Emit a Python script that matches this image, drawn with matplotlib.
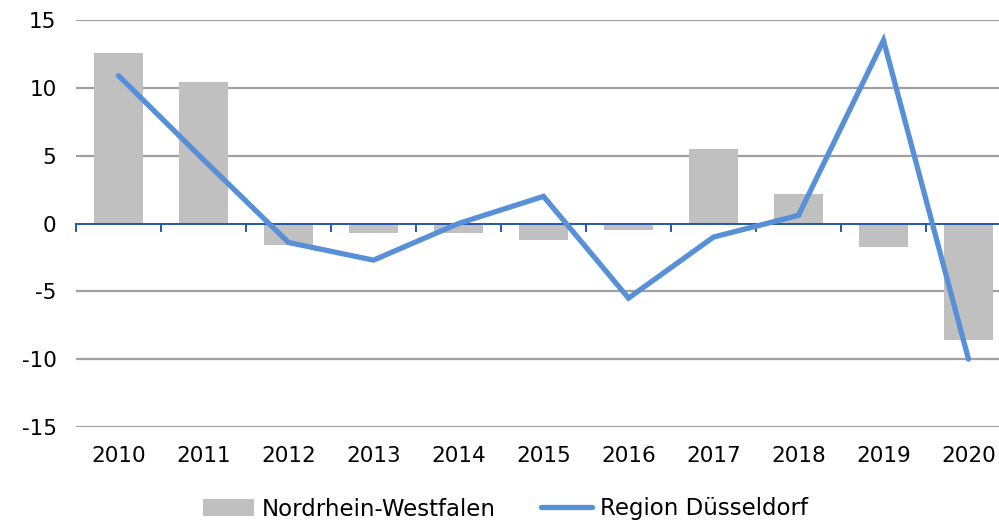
import numpy as np
import matplotlib.pyplot as plt

years = ['2010', '2011', '2012', '2013', '2014', '2015', '2016', '2017', '2018', '2019', '2020']
nrw = [12.6, 10.4, -1.6, -0.7, -0.7, -1.2, -0.5, 5.5, 2.2, -1.7, -8.6]
duesseldorf = [10.9, 4.7, -1.4, -2.7, 0.0, 2.0, -5.5, -1.0, 0.6, 13.5, -10.0]

plt.rcParams['font.family'] = ['DejaVu Sans']
plt.rcParams['axes.unicode_minus'] = False
fig = plt.figure(figsize=(9.99, 5.23), dpi=100)
ax = fig.add_axes([76 / 999, 1 - 427 / 523, 935 / 999, 407 / 523])

x = np.arange(len(years))
bars = ax.bar(x, nrw, width=0.57, color='#c0c0c0', label='Nordrhein-Westfalen', zorder=2)
line, = ax.plot(x, duesseldorf, color='#5890d8', linewidth=3.8, solid_capstyle='round',
                solid_joinstyle='miter', label='Region Düsseldorf', zorder=3)

ax.set_xlim(-0.5, len(years) - 0.5)
ax.set_ylim(-15, 15)
ax.set_yticks(range(-15, 16, 5))
for v in range(-15, 16, 5):
    if v != 0:
        ax.axhline(v, color='#a0a0a0', linewidth=1.6, zorder=1)
ax.axhline(0, color='#2459a8', linewidth=1.4, zorder=2.5)

# tick marks on the zero line at category boundaries
for b in np.arange(-0.5, len(years), 1.0):
    ax.plot([b, b], [0, -0.55], color='#2459a8', linewidth=1.4, zorder=2.5,
            clip_on=False)

ax.set_xticks(x)
ax.set_xticklabels(years)
ax.tick_params(axis='both', length=0, labelsize=15.5, colors='black')
ax.tick_params(axis='x', pad=14)
ax.tick_params(axis='y', pad=14)
for s in ax.spines.values():
    s.set_visible(False)

fig.legend([bars, line], ['Nordrhein-Westfalen', 'Region Düsseldorf'],
           loc='center', bbox_to_anchor=(0.506, 1 - 509 / 523), ncol=2,
           frameon=False, fontsize=16.5, handlelength=2.2, handleheight=0.8,
           columnspacing=2.0, handletextpad=0.35)

plt.savefig('out.png', dpi=100)
